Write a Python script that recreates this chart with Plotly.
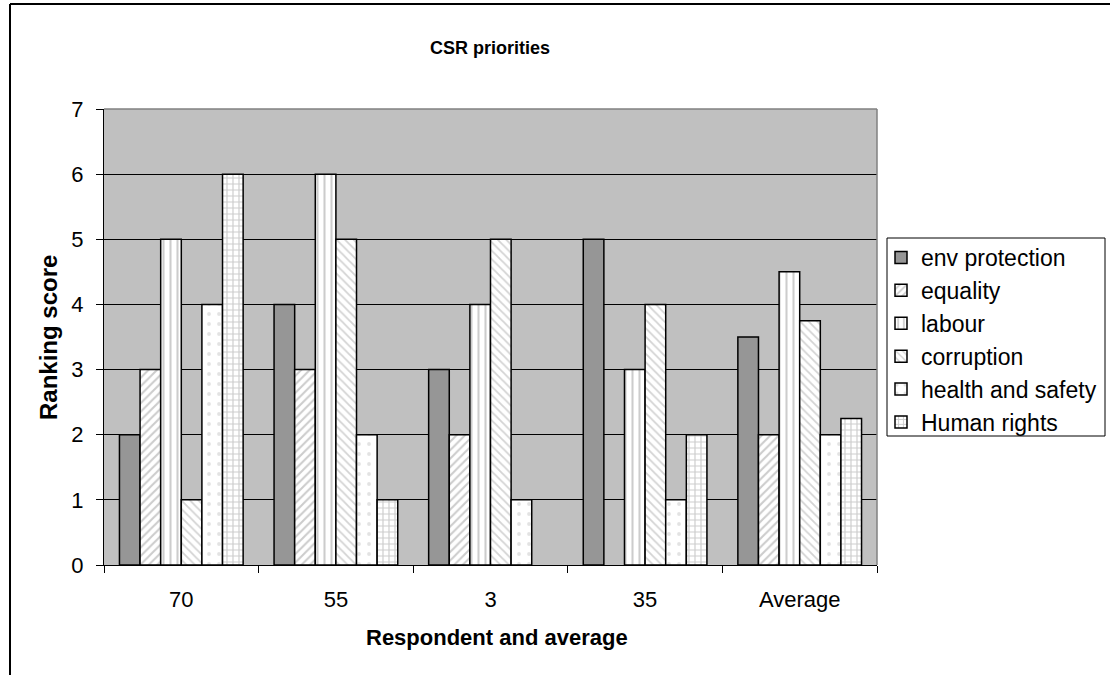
import plotly.graph_objects as go

categories = ["70", "55", "3", "35", "Average"]
series_names = ["env protection", "equality", "labour", "corruption", "health and safety", "Human rights"]
env_protection = [2, 4, 3, 5, 3.5]
equality = [3, 3, 2, None, 2]
labour = [5, 6, 4, 3, 4.5]
corruption = [1, 5, 5, 4, 3.75]
health_and_safety = [4, 2, 1, 1, 2]
human_rights = [6, 1, None, 2, 2.25]
y_ticks = [0, 1, 2, 3, 4, 5, 6, 7]

series_values = [env_protection, equality, labour, corruption, health_and_safety, human_rights]
styles = [
    dict(color="#969696", pattern=dict(shape="")),
    dict(color="white", pattern=dict(shape="/", fgcolor="#9a9a9a", bgcolor="white", size=6, solidity=0.35)),
    dict(color="white", pattern=dict(shape="|", fgcolor="#9a9a9a", bgcolor="white", size=7, solidity=0.3)),
    dict(color="white", pattern=dict(shape="\\", fgcolor="#a8a8a8", bgcolor="white", size=6, solidity=0.3)),
    dict(color="white", pattern=dict(shape=".", fgcolor="#c8c8c8", bgcolor="white", size=10, solidity=0.12)),
    dict(color="white", pattern=dict(shape="+", fgcolor="#9a9a9a", bgcolor="white", size=6, solidity=0.35)),
]

FONT = "Arial, 'Liberation Sans', sans-serif"
W, H = 1110, 675
L, R, T, B = 104, 233, 109, 110
PW, PH = W - L - R, H - T - B


def px(x):
    return (x - L) / PW


def py(y):
    return (H - B - y) / PH


fig = go.Figure()
for i, (name, vals, st) in enumerate(zip(series_names, series_values, styles)):
    fig.add_trace(go.Bar(
        name=name, x=categories, y=vals, legendgroup=f"g{i}",
        marker=dict(color=st["color"], pattern=st["pattern"],
                    line=dict(color="black", width=1.5)),
    ))

fig.update_layout(
    width=W, height=H,
    paper_bgcolor="white", plot_bgcolor="#c0c0c0",
    margin=dict(l=L, r=R, t=T, b=B, autoexpand=False),
    barmode="group", bargap=0.2, bargroupgap=0,
    font=dict(family=FONT, color="black", size=22),
    legend=dict(x=px(881), xanchor="left", y=py(236), yanchor="top",
                borderwidth=0, bgcolor="rgba(0,0,0,0)",
                font=dict(size=23), tracegroupgap=3, itemwidth=30,
                traceorder="normal"),
    showlegend=True,
)
fig.update_xaxes(
    type="category", showline=True, linecolor="black", linewidth=1,
    ticks="outside", tickson="boundaries", ticklen=7, tickcolor="black",
    tickfont=dict(size=22), showgrid=False, ticklabelstandoff=15,
    automargin=False,
)
fig.update_yaxes(
    range=[0, 7], tickvals=y_ticks, showline=True, linecolor="black", linewidth=1,
    ticks="outside", ticklen=7, tickcolor="black", tickfont=dict(size=22),
    showgrid=True, gridcolor="black", gridwidth=1, zeroline=False,
    ticklabelstandoff=8, automargin=False,
)
# titles
fig.add_annotation(text="<b>CSR priorities</b>", xref="paper", yref="paper",
                   x=px(490), y=py(48), showarrow=False, font=dict(size=18),
                   xanchor="center", yanchor="middle")
fig.add_annotation(text="<b>Respondent and average</b>", xref="paper", yref="paper",
                   x=px(497), y=py(637), showarrow=False, font=dict(size=22),
                   xanchor="center", yanchor="middle")
fig.add_annotation(text="<b>Ranking score</b>", xref="paper", yref="paper",
                   x=px(48), y=py(338), showarrow=False, font=dict(size=24),
                   textangle=-90, xanchor="center", yanchor="middle")
# gray top/right plot-area border
fig.add_shape(type="line", xref="paper", yref="paper", x0=0, x1=1, y0=1, y1=1,
              line=dict(color="#808080", width=1.5), layer="above")
fig.add_shape(type="line", xref="paper", yref="paper", x0=1, x1=1, y0=0, y1=1,
              line=dict(color="#808080", width=1.5), layer="above")
# legend box
fig.add_shape(type="rect", xref="paper", yref="paper",
              x0=px(887), x1=px(1105), y0=py(436), y1=py(238),
              fillcolor="white", line=dict(color="black", width=1), layer="above")
# outer chart frame (left and top)
fig.add_shape(type="line", xref="paper", yref="paper",
              x0=px(10), x1=px(1112), y0=py(4), y1=py(4),
              line=dict(color="black", width=2), layer="above")
fig.add_shape(type="line", xref="paper", yref="paper",
              x0=px(10), x1=px(10), y0=py(680), y1=py(4),
              line=dict(color="black", width=2), layer="above")

fig.write_html("out.html", post_script="document.body.style.margin='0';",
               config={"displayModeBar": False})
